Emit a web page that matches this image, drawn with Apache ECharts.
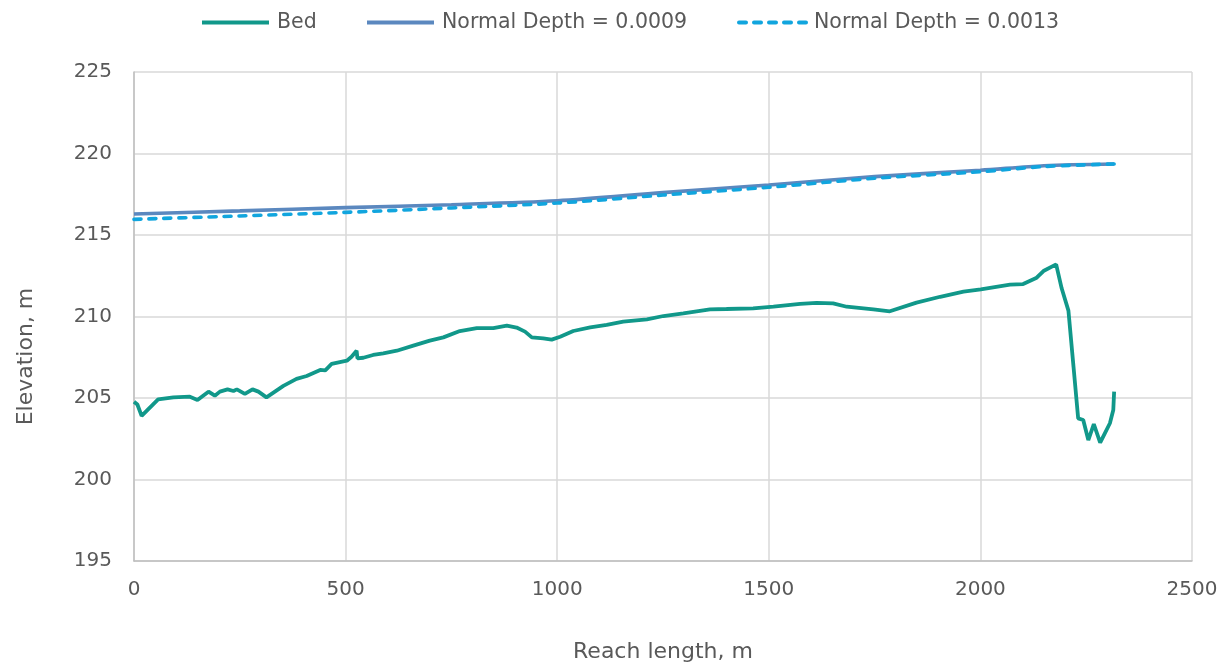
<!DOCTYPE html>
<html>
<head>
<meta charset="utf-8">
<script src="https://cdn.jsdelivr.net/npm/echarts@6/dist/echarts.min.js"></script>
<style>
  html, body { margin: 0; padding: 0; background: #fff; }
  #chart { width: 1228px; height: 672px; }
</style>
</head>
<body>
<div id="chart"></div>
<script>
// 河床纵断面数据
var bedX = [0, 8, 18, 57, 93, 132, 150, 176, 191, 203, 221, 235, 243, 262, 280, 294, 313, 353, 384, 408,
    440, 452, 467, 503, 514, 526, 528, 542, 565, 589, 621, 660, 699, 731, 770, 810, 849, 881, 904, 924,
    940, 967, 987, 1007, 1038, 1078, 1117, 1156, 1212, 1251, 1298, 1361, 1400, 1463, 1511, 1574, 1613, 1652, 1684, 1747,
    1786, 1849, 1905, 1960, 2001, 2070, 2101, 2133, 2149, 2179, 2192, 2208, 2220, 2231, 2243, 2255, 2268, 2283, 2294, 2306,
    2314, 2316];
var bedY = [204.77, 204.6, 203.9, 204.92, 205.04, 205.08, 204.88, 205.39, 205.14, 205.39, 205.53, 205.43, 205.53, 205.25, 205.53, 205.39, 205.04, 205.74, 206.17, 206.35,
    206.72, 206.7, 207.09, 207.29, 207.53, 207.9, 207.43, 207.47, 207.64, 207.74, 207.9, 208.21, 208.52, 208.72, 209.11, 209.29, 209.29, 209.44, 209.32, 209.07,
    208.72, 208.66, 208.58, 208.76, 209.11, 209.33, 209.48, 209.68, 209.83, 210.03, 210.19, 210.44, 210.46, 210.5, 210.6, 210.77, 210.83, 210.81, 210.6, 210.44,
    210.32, 210.85, 211.21, 211.52, 211.67, 211.95, 211.99, 212.38, 212.79, 213.2, 211.73, 210.36, 206.92, 203.75, 203.65, 202.42, 203.4, 202.26, 202.83, 203.45,
    204.26, 205.39];

// 正常水深
var ndX = [0, 250, 500, 750, 1000, 1250, 1500, 1750, 2000, 2150, 2316];
var nd9Y = [216.29, 216.48, 216.68, 216.86, 217.1, 217.6, 218.07, 218.58, 218.97, 219.25, 219.36];
var nd13Y = [215.96, 216.17, 216.39, 216.66, 216.96, 217.45, 217.93, 218.48, 218.88, 219.2, 219.36];

var seriesNames = ['Bed', 'Normal Depth = 0.0009', 'Normal Depth = 0.0013'];
var xTicks = { min: 0, max: 2500, interval: 500 };
var yTicks = { min: 195, max: 225, interval: 5 };

function pairs(xs, ys) {
    return xs.map(function (x, i) { return [x, ys[i]]; });
}

var chart = echarts.init(document.getElementById('chart'));

var font = 'DejaVu Sans, sans-serif';
var textColor = '#595959';
var legendBase = {
    top: 7,
    itemWidth: 67,
    itemHeight: 14,
    itemGap: 0,
    itemStyle: { opacity: 0 },
    lineStyle: { width: 4 },
    textStyle: { fontFamily: font, fontSize: 20.5, color: textColor, padding: [0, 0, 0, 3] }
};

var option = {
    animation: false,
    backgroundColor: '#fff',
    legend: [
        Object.assign({}, legendBase, { left: 195, data: [seriesNames[0]] }),
        Object.assign({}, legendBase, { left: 360, data: [seriesNames[1]] }),
        Object.assign({}, legendBase, { left: 732, data: [seriesNames[2]] })
    ],
    grid: {
        left: 134,
        right: 36,
        top: 72,
        bottom: 111
    },
    xAxis: {
        type: 'value',
        min: xTicks.min,
        max: xTicks.max,
        interval: xTicks.interval,
        name: 'Reach length, m',
        nameLocation: 'middle',
        nameGap: 80,
        nameTextStyle: { fontFamily: font, fontSize: 22, color: textColor },
        axisLine: { lineStyle: { color: '#BFBFBF', width: 1.5 } },
        axisTick: { show: false },
        axisLabel: {
            fontFamily: font, fontSize: 20, color: textColor, margin: 19,
            formatter: function (v) { return String(v); }
        },
        splitLine: { lineStyle: { color: '#D9D9D9', width: 1.5 } }
    },
    yAxis: {
        type: 'value',
        min: yTicks.min,
        max: yTicks.max,
        interval: yTicks.interval,
        name: 'Elevation, m',
        nameLocation: 'middle',
        nameGap: 97,
        nameTextStyle: { fontFamily: font, fontSize: 22, color: textColor, padding: [0, 80, 0, 0] },
        axisLine: { show: true, lineStyle: { color: '#BFBFBF', width: 1.5 } },
        axisTick: { show: false },
        axisLabel: { fontFamily: font, fontSize: 20, color: textColor, margin: 22 },
        splitLine: { lineStyle: { color: '#D9D9D9', width: 1.5 } }
    },
    series: [
        {
            name: seriesNames[0],
            type: 'line',
            data: pairs(bedX, bedY),
            showSymbol: false,
            symbol: 'none',
            color: '#11988A',
            lineStyle: { width: 3.8, color: '#11988A' },
            z: 3
        },
        {
            name: seriesNames[1],
            type: 'line',
            data: pairs(ndX, nd9Y),
            showSymbol: false,
            symbol: 'none',
            smooth: 0.3,
            color: '#5B88BF',
            lineStyle: { width: 3.6, color: '#5B88BF' },
            z: 2
        },
        {
            name: seriesNames[2],
            type: 'line',
            data: pairs(ndX, nd13Y),
            showSymbol: false,
            symbol: 'none',
            smooth: 0.3,
            color: '#11A5DE',
            lineStyle: { width: 3.6, color: '#11A5DE', type: [7, 8], cap: 'round' },
            z: 4
        }
    ]
};

chart.setOption(option);
</script>
</body>
</html>
